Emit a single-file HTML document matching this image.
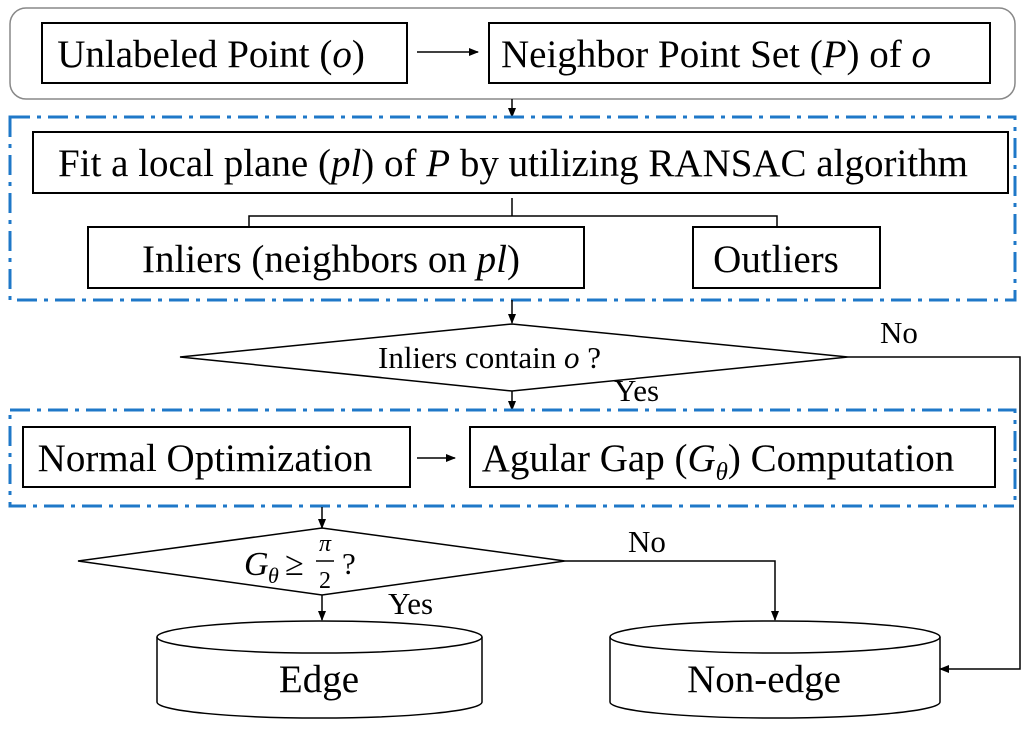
<!DOCTYPE html>
<html><head><style>
html,body{margin:0;padding:0;background:#fff;width:1024px;height:735px;overflow:hidden}
text{font-family:"Liberation Serif",serif;fill:#000}
</style></head><body>
<svg width="1024" height="735" viewBox="0 0 1024 735" xmlns="http://www.w3.org/2000/svg">
<defs><marker id="a" markerWidth="10" markerHeight="8" refX="9" refY="4" orient="auto" markerUnits="userSpaceOnUse"><path d="M0,0 L10,4 L0,8 z" fill="#000"/></marker></defs>
<g fill="none" stroke="#000" stroke-width="1.5">
<rect x="10" y="8" width="1005" height="91" rx="16" stroke="#888"/>
<rect x="42" y="23" width="365" height="60" stroke-width="2"/>
<rect x="489" y="23" width="501" height="60" stroke-width="2"/>
<line x1="417" y1="52" x2="478" y2="52" marker-end="url(#a)"/>
<line x1="512" y1="99" x2="512" y2="117" marker-end="url(#a)"/>
<rect x="10" y="117" width="1005" height="183" stroke="#1f78c8" stroke-width="3" stroke-dasharray="20,7,4,7"/>
<rect x="33" y="132" width="975" height="61" stroke-width="2"/>
<path d="M512,198 V216 M249,227 V216 H777 V227"/>
<rect x="88" y="227" width="496" height="61" stroke-width="2"/>
<rect x="693" y="227" width="187" height="61" stroke-width="2"/>
<line x1="512" y1="300" x2="512" y2="323" marker-end="url(#a)"/>
<polygon points="180,357 512,324 848,357 512,391"/>
<path d="M848,357 H1020 V669 H940" marker-end="url(#a)"/>
<line x1="512" y1="391" x2="512" y2="410" marker-end="url(#a)"/>
<rect x="10" y="410" width="1005" height="96" stroke="#1f78c8" stroke-width="3" stroke-dasharray="20,7,4,7"/>
<rect x="23" y="427" width="387" height="60" stroke-width="2"/>
<rect x="470" y="427" width="525" height="60" stroke-width="2"/>
<line x1="417" y1="458" x2="455" y2="458" marker-end="url(#a)"/>
<line x1="322" y1="507" x2="322" y2="528" marker-end="url(#a)"/>
<polygon points="78,561 322,528 565,561 322,595"/>
<path d="M565,561 H775 V620" marker-end="url(#a)"/>
<line x1="322" y1="595" x2="322" y2="620" marker-end="url(#a)"/>
<path d="M157,637 V702 A162.5,16 0 0 0 482,702 V637"/>
<ellipse cx="319.5" cy="637" rx="162.5" ry="16"/>
<path d="M610,637 V702 A165,16 0 0 0 940,702 V637"/>
<ellipse cx="775" cy="637" rx="165" ry="16"/>
</g>
<g font-size="39" text-anchor="middle">
<text x="211" y="67">Unlabeled Point (<tspan font-style="italic">o</tspan>)</text>
<text x="716" y="67">Neighbor Point Set (<tspan font-style="italic">P</tspan>) of <tspan font-style="italic">o</tspan></text>
<text x="513" y="176">Fit a local plane (<tspan font-style="italic">pl</tspan>) of <tspan font-style="italic">P</tspan> by utilizing RANSAC algorithm</text>
<text x="331" y="272">Inliers (neighbors on <tspan font-style="italic">pl</tspan>)</text>
<text x="776" y="272">Outliers</text>
<text x="205" y="471">Normal Optimization</text>
<text x="718" y="471">Agular Gap (<tspan font-style="italic">G</tspan><tspan font-style="italic" font-size="25" dy="9">θ</tspan><tspan dy="-9">) Computation</tspan></text>
<text x="319" y="692">Edge</text>
<text x="764" y="692">Non-edge</text>
</g>
<g font-size="31">
<text x="378" y="368">Inliers contain <tspan font-style="italic">o</tspan> ?</text>
<text x="880" y="343">No</text>
<text x="614" y="401">Yes</text>
<text x="628" y="552">No</text>
<text x="388" y="614">Yes</text>
<text x="244" y="575" font-size="34" font-style="italic">G</text>
<text x="268" y="583" font-size="22" font-style="italic">θ</text>
<text x="285" y="575" font-size="34">≥</text>
<text x="325" y="551" font-size="24" font-style="italic" text-anchor="middle">π</text>
<line x1="316" y1="561" x2="334" y2="561" stroke="#000" stroke-width="1.5"/>
<text x="325" y="588" font-size="24" text-anchor="middle">2</text>
<text x="342" y="574" font-size="31">?</text>
</g>
</svg>
</body></html>
